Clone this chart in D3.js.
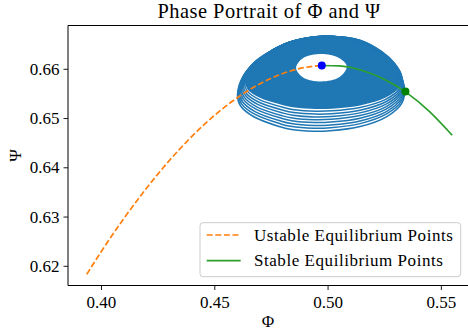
<!DOCTYPE html>
<html>
<head>
<meta charset="utf-8">
<script src="https://cdn.jsdelivr.net/npm/d3@7"></script>
<style>
  body { margin: 0; background: #fff; }
  svg text { font-family: "Liberation Serif", "Times New Roman", serif; }
</style>
</head>
<body>
<svg id="chart" width="468" height="335"></svg>
<script>
// Tick values
const xTicks = [0.40, 0.45, 0.50, 0.55];
const yTicks = [0.62, 0.63, 0.64, 0.65, 0.66];

// Unstable branch of the characteristic (dashed orange)
const unstablePhi = [0.3937, 0.40, 0.41, 0.42, 0.43, 0.44, 0.45, 0.46, 0.47, 0.48, 0.49, 0.4975];
const unstablePsi = [0.61826, 0.62281, 0.62954, 0.63570, 0.64128, 0.64622, 0.65050, 0.65408, 0.65692, 0.65900, 0.66027, 0.66067];

// Stable branch (solid green)
const stablePhi = [0.4975, 0.505, 0.515, 0.525, 0.535, 0.545, 0.555];
const stablePsi = [0.66067, 0.66059, 0.65970, 0.65788, 0.65510, 0.65132, 0.64651];

// Outermost orbit of the trajectory, read clockwise from the top
const orbitPhi = [0.49935, 0.51436, 0.52465, 0.53057, 0.53393, 0.53278, 0.52615, 0.51436, 0.50112,
  0.49361, 0.48346, 0.47904, 0.46725, 0.46156, 0.46024, 0.46311, 0.46973, 0.48032, 0.49003];
const orbitPsi = [0.66660, 0.66554, 0.66250, 0.65945, 0.65608, 0.65304, 0.65031, 0.64828, 0.64741,
  0.64731, 0.64772, 0.64822, 0.65031, 0.65249, 0.65472, 0.65878, 0.66183, 0.66487, 0.66619];
// Point the orbits shrink towards (top of the spiral)
const orbitAnchor = [0.51348, 0.66660];
// Visible separate orbits, outer to inner
const orbitScaleX = [1.000, 0.992, 0.984, 0.975, 0.967, 0.959, 0.951, 0.942, 0.934];
const orbitScaleY = [1.000, 0.968, 0.938, 0.908, 0.879, 0.849, 0.819, 0.789, 0.758];

// Empty region around the starting point
const holePhi = [0.48610, 0.48924, 0.49714, 0.50505, 0.50849, 0.50509, 0.49714, 0.48920];
const holePsi = [0.66014, 0.66217, 0.66298, 0.66217, 0.66047, 0.65827, 0.65742, 0.65823];

const unstablePoint = [0.49745, 0.66067];
const stablePoint = [0.53437, 0.65539];

const legendLabels = ['Ustable Equilibrium Points', 'Stable Equilibrium Points'];

const box = { left: 68, top: 25.5, right: 471, bottom: 285.5 };
const orange = '#ff7f0e';
const green = '#2ca02c';
const blue = '#1f77b4';

const svg = d3.select('#chart');

const x = d3.scaleLinear().domain([0.38544, 0.5633]).range([box.left, box.right]);
const y = d3.scaleLinear().domain([0.616, 0.66879]).range([box.bottom, box.top]);

const plot = svg.append('g');

// Spiral: solid band between innermost separate orbit and the hole, then the orbits
const orbitLine = d3.line().x((d) => x(d[0])).y((d) => y(d[1])).curve(d3.curveCatmullRomClosed);
const orbit = (sx, sy) =>
  orbitPhi.map((p, i) => [
    orbitAnchor[0] + (p - orbitAnchor[0]) * sx,
    orbitAnchor[1] + (orbitPsi[i] - orbitAnchor[1]) * sy,
  ]);
const last = orbitScaleX.length - 1;
const hole = holePhi.map((p, i) => [p, holePsi[i]]);

plot.append('path')
  .attr('d', orbitLine(orbit(orbitScaleX[last], orbitScaleY[last])) + orbitLine(hole))
  .attr('fill', blue)
  .attr('fill-rule', 'evenodd');

plot.selectAll('path.orbit')
  .data(orbitScaleX.map((sx, i) => orbit(sx, orbitScaleY[i])))
  .join('path')
  .attr('class', 'orbit')
  .attr('d', orbitLine)
  .attr('fill', 'none')
  .attr('stroke', blue)
  .attr('stroke-width', 1.5);

// Equilibrium branches
const branch = d3.line().x((d) => x(d[0])).y((d) => y(d[1])).curve(d3.curveMonotoneX);
plot.append('path')
  .attr('d', branch(unstablePhi.map((p, i) => [p, unstablePsi[i]])))
  .attr('fill', 'none')
  .attr('stroke', orange)
  .attr('stroke-width', 1.7)
  .attr('stroke-dasharray', '6,2.6');
plot.append('path')
  .attr('d', branch(stablePhi.map((p, i) => [p, stablePsi[i]])))
  .attr('fill', 'none')
  .attr('stroke', green)
  .attr('stroke-width', 1.7);

plot.append('circle').attr('cx', x(unstablePoint[0])).attr('cy', y(unstablePoint[1])).attr('r', 4).attr('fill', '#0000ff');
plot.append('circle').attr('cx', x(stablePoint[0])).attr('cy', y(stablePoint[1])).attr('r', 4).attr('fill', '#008000');

// Axes
const xAxis = svg.append('g')
  .attr('transform', `translate(0,${box.bottom})`)
  .call(d3.axisBottom(x).tickValues(xTicks).tickFormat(d3.format('.2f')).tickSize(4.5).tickPadding(6));
const yAxis = svg.append('g')
  .attr('transform', `translate(${box.left},0)`)
  .call(d3.axisLeft(y).tickValues(yTicks).tickFormat(d3.format('.2f')).tickSize(4.5).tickPadding(4));
[xAxis, yAxis].forEach((g) => {
  g.select('.domain').remove();
  g.attr('font-family', null).attr('font-size', null);
  g.selectAll('text').attr('font-size', 17).attr('fill', '#000');
  g.selectAll('.tick line').attr('stroke', '#000').attr('stroke-width', 0.9);
});

// Spines
svg.append('line').attr('x1', box.left).attr('x2', box.left).attr('y1', box.top).attr('y2', box.bottom).attr('stroke', '#000');
svg.append('line').attr('x1', box.left).attr('x2', box.right).attr('y1', box.top).attr('y2', box.top).attr('stroke', '#000');
svg.append('line').attr('x1', box.left).attr('x2', box.right).attr('y1', box.bottom).attr('y2', box.bottom).attr('stroke', '#000');
svg.append('line').attr('x1', box.right).attr('x2', box.right).attr('y1', box.top).attr('y2', box.bottom).attr('stroke', '#000');

// Labels
svg.append('text')
  .attr('x', 269).attr('y', 18.3)
  .attr('text-anchor', 'middle')
  .attr('font-size', 20.4)
  .attr('letter-spacing', 0.5)
  .text('Phase Portrait of Φ and Ψ');
svg.append('text')
  .attr('x', 268).attr('y', 327)
  .attr('text-anchor', 'middle')
  .attr('font-size', 17)
  .text('Φ');
svg.append('text')
  .attr('transform', 'translate(21,155.5) rotate(-90)')
  .attr('text-anchor', 'middle')
  .attr('font-size', 17)
  .text('Ψ');

// Legend
const legend = svg.append('g').attr('transform', 'translate(200,222.7)');
legend.append('rect')
  .attr('width', 260.7).attr('height', 54).attr('rx', 3)
  .attr('fill', '#fff').attr('fill-opacity', 0.8)
  .attr('stroke', '#cccccc');
const rows = legend.selectAll('g.row')
  .data(legendLabels)
  .join('g')
  .attr('class', 'row')
  .attr('transform', (d, i) => `translate(0,${12.3 + i * 25.7})`);
rows.append('line')
  .attr('x1', 6.7).attr('x2', 40.7)
  .attr('stroke', (d, i) => (i === 0 ? orange : green))
  .attr('stroke-width', 1.7)
  .attr('stroke-dasharray', (d, i) => (i === 0 ? '6,2.6' : null));
rows.append('text')
  .attr('x', 54).attr('y', 5.7)
  .attr('font-size', 17)
  .attr('letter-spacing', 0.55)
  .text((d) => d);
</script>
</body>
</html>
